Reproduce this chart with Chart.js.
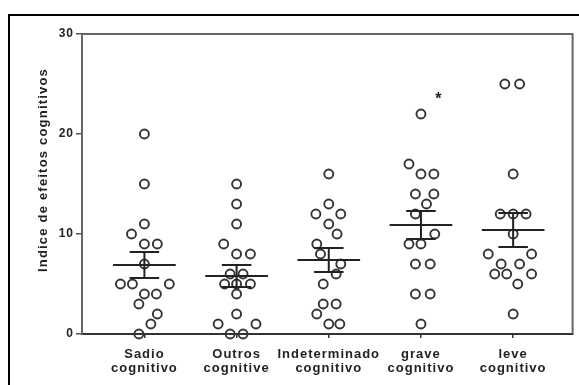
<!DOCTYPE html>
<html>
<head>
<meta charset="utf-8">
<script src="https://cdn.jsdelivr.net/npm/chart.js@4.4.1/dist/chart.umd.min.js"></script>
<style>
  html, body { margin: 0; padding: 0; background: #fff; overflow: hidden; }
  canvas { position: absolute; left: 0; top: 0; }
  #marco { position: absolute; left: 8px; top: 14px; width: 600px; height: 400px;
           border-left: 2px solid #000; border-top: 2px solid #000; pointer-events: none; }
</style>
</head>
<body>
<canvas id="grafico" width="579" height="385"></canvas>
<div id="marco"></div>
<script>
// categorias (duas linhas por rótulo)
const grupos = ['Sadio', 'Outros', 'Indeterminado', 'grave', 'leve'];
const segundaLinha = ['cognitivo', 'cognitive', 'cognitivo', 'cognitivo', 'cognitivo'];
const ticksY = [0, 10, 20, 30];
const tituloY = 'Indice de efeitos cognitivos';

// valores de cada grupo + deslocamento horizontal
const valSadio = [20, 15, 11, 10, 9, 9, 7, 5, 5, 5, 4, 4, 3, 2, 1, 0];
const desvSadio = [0, 0, 0, -0.14, 0, 0.14, 0, -0.26, -0.13, 0.27, 0, 0.13, -0.06, 0.14, 0.07, -0.06];
const valOutros = [15, 13, 11, 9, 8, 8, 6, 6, 5, 5, 5, 4, 2, 1, 1, 0, 0];
const desvOutros = [0, 0, 0, -0.14, 0, 0.15, -0.07, 0.07, -0.13, 0, 0.15, 0, 0, -0.2, 0.21, -0.07, 0.07];
const valIndet = [16, 13, 12, 12, 11, 10, 9, 8, 7, 6, 5, 3, 3, 2, 1, 1];
const desvIndet = [0, 0, -0.14, 0.13, 0, 0.09, -0.13, -0.09, 0.13, 0.08, -0.06, -0.06, 0.08, -0.13, 0, 0.12];
const valGrave = [22, 17, 16, 16, 14, 14, 13, 12, 10, 9, 9, 7, 7, 4, 4, 1];
const desvGrave = [0, -0.13, 0, 0.14, -0.06, 0.14, 0.06, -0.06, 0.15, -0.13, 0, -0.06, 0.1, -0.06, 0.1, 0];
const valLeve = [25, 25, 16, 12, 12, 12, 10, 8, 8, 7, 7, 6, 6, 6, 5, 2];
const desvLeve = [-0.09, 0.07, 0, -0.14, 0, 0.14, 0, -0.27, 0.2, -0.13, 0.07, -0.2, -0.07, 0.2, 0.05, 0];

// média e erro padrão
const medias = [6.9, 5.8, 7.4, 10.9, 10.4];
const erros = [1.3, 1.1, 1.2, 1.4, 1.7];

// asterisco de significância sobre "grave"
const asterisco = { x: 3.19, y: 23.7 };

const valores = [valSadio, valOutros, valIndet, valGrave, valLeve];
const desvios = [desvSadio, desvOutros, desvIndet, desvGrave, desvLeve];

const COR = '#333';
const FONTE = '"Liberation Sans", Arial, sans-serif';

const pontos = valores.map((vals, i) => ({
    data: vals.map((v, k) => ({ x: i + desvios[i][k], y: v })),
    showLine: false,
    pointRadius: 4.5,
    pointBorderWidth: 1.9,
    pointBorderColor: COR,
    pointBackgroundColor: 'rgba(255,255,255,0)',
    clip: false
}));

const linhasMedia = [];
medias.forEach((m, i) => {
    linhasMedia.push({ x: i - 0.34, y: m }, { x: i + 0.34, y: m }, { x: i, y: null });
});

const linhasErro = [];
medias.forEach((m, i) => {
    const e = erros[i];
    linhasErro.push(
        { x: i - 0.16, y: m + e }, { x: i + 0.16, y: m + e }, { x: i, y: null },
        { x: i, y: m + e }, { x: i, y: m - e }, { x: i, y: null },
        { x: i - 0.16, y: m - e }, { x: i + 0.16, y: m - e }, { x: i, y: null }
    );
});

const extras = {
    id: 'extras',
    beforeDraw(chart) {
        chart.ctx.letterSpacing = '1px';
    },
    beforeDatasetsDraw(chart) {
        const { ctx, chartArea: a } = chart;
        ctx.save();
        ctx.strokeStyle = '#666';
        ctx.lineWidth = 2;
        ctx.beginPath();
        ctx.moveTo(a.left, a.top);
        ctx.lineTo(a.right, a.top);
        ctx.lineTo(a.right, a.bottom);
        ctx.stroke();
        ctx.restore();
    },
    afterDraw(chart) {
        const ctx = chart.ctx;
        const sx = chart.scales.x, sy = chart.scales.y;
        ctx.save();
        ctx.fillStyle = '#222';
        ctx.textAlign = 'center';
        ctx.textBaseline = 'middle';
        ctx.font = 'bold 16px ' + FONTE;
        ctx.letterSpacing = '0px';
        ctx.fillText('*', sx.getPixelForValue(asterisco.x), sy.getPixelForValue(asterisco.y) + 3);
        ctx.translate(43, 170);
        ctx.rotate(-Math.PI / 2);
        ctx.font = 'bold 13px ' + FONTE;
        ctx.letterSpacing = '1.2px';
        ctx.fillText(tituloY, 0, 0);
        ctx.restore();
    }
};

new Chart(document.getElementById('grafico'), {
    type: 'scatter',
    data: {
        datasets: [
            { data: linhasMedia, showLine: true, spanGaps: false, borderColor: '#222', borderWidth: 2, pointRadius: 0, clip: false },
            { data: linhasErro, showLine: true, spanGaps: false, borderColor: '#222', borderWidth: 2, pointRadius: 0, clip: false },
            ...pontos
        ]
    },
    options: {
        responsive: false,
        devicePixelRatio: 1,
        animation: false,
        layout: { padding: { left: 0, top: 34, right: 2, bottom: 0 } },
        plugins: { legend: { display: false }, tooltip: { enabled: false } },
        scales: {
            x: {
                type: 'linear',
                min: -0.677,
                max: 4.645,
                afterFit: s => { s.height = 51; },
                afterBuildTicks: s => { s.ticks = grupos.map((g, i) => ({ value: i })); },
                ticks: {
                    autoSkip: false,
                    maxRotation: 0,
                    padding: 9,
                    color: '#222',
                    font: { family: FONTE, size: 13, weight: 'bold', lineHeight: 1.1 },
                    callback: v => [grupos[v], segundaLinha[v]]
                },
                grid: { drawOnChartArea: false, drawTicks: true, tickLength: 4, color: COR, lineWidth: 1.5 },
                border: { display: true, color: COR, width: 2 }
            },
            y: {
                min: 0,
                max: 30,
                afterFit: s => { s.width = 82; },
                afterBuildTicks: s => { s.ticks = ticksY.map(v => ({ value: v })); },
                ticks: {
                    padding: 2,
                    color: '#222',
                    font: { family: FONTE, size: 12, weight: 'bold' }
                },
                grid: { drawOnChartArea: false, drawTicks: true, tickLength: 6, color: '#555', lineWidth: 1.5 },
                border: { display: true, color: '#666', width: 2 }
            }
        }
    },
    plugins: [extras]
});
</script>
</body>
</html>
